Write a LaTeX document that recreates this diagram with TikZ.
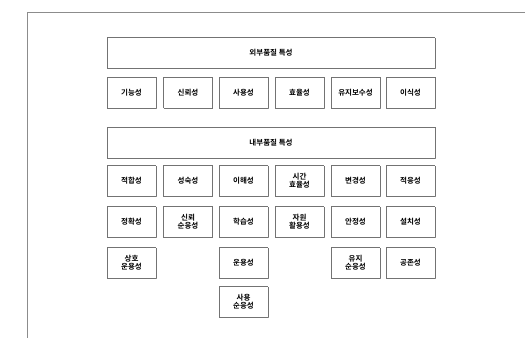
\documentclass[tikz,border=0pt]{standalone}
\usepackage{fontspec}
\newfontfamily\kr{Noto Sans CJK KR}[BoldFont={* Bold}]
\begin{document}
\begin{tikzpicture}[x=1pt,y=-1pt,
  qbox/.style={draw=black!55, line width=1pt, dash pattern=on 0.6pt off 0.3pt,
    minimum width=49pt, minimum height=31pt, inner sep=0pt, align=center,
    font=\kr\bfseries\fontsize{7.5}{8.3}\selectfont},
  widebox/.style={qbox, minimum width=328pt},
  frameline/.style={draw=black!45, line width=0.9pt, dash pattern=on 0.6pt off 0.3pt}]
\useasboundingbox (0,0) rectangle (525,338);
\coordinate (fa) at (525,12);
\coordinate (fb) at (27,12);
\coordinate (fc) at (27,338);
\draw[frameline] (fa) -- (fb) -- (fc);
% external
\node[widebox] (ext) at (271,53) {외부품질 특성};
\node[qbox] (e1) at (131.5,92.5) {기능성};
\node[qbox] (e2) at (188,92.5) {신뢰성};
\node[qbox] (e3) at (243.5,92.5) {사용성};
\node[qbox] (e4) at (299.5,92.5) {효율성};
\node[qbox] (e5) at (355.5,92.5) {유지보수성};
\node[qbox] (e6) at (410.5,92.5) {이식성};
% internal
\node[widebox] (int) at (271,142.5) {내부품질 특성};
\node[qbox] (a1) at (131.5,181) {적합성};
\node[qbox] (a2) at (188,181) {성숙성};
\node[qbox] (a3) at (243.5,181) {이해성};
\node[qbox] (a4) at (299.5,181) {시간\\효율성};
\node[qbox] (a5) at (355.5,181) {변경성};
\node[qbox] (a6) at (410.5,181) {적응성};
\node[qbox] (b1) at (131.5,222) {정확성};
\node[qbox] (b2) at (188,222) {신뢰\\순응성};
\node[qbox] (b3) at (243.5,222) {학습성};
\node[qbox] (b4) at (299.5,222) {자원\\활용성};
\node[qbox] (b5) at (355.5,222) {안정성};
\node[qbox] (b6) at (410.5,222) {설치성};
\node[qbox] (c1) at (131.5,263) {상호\\운용성};
\node[qbox] (c3) at (243.5,263) {운용성};
\node[qbox] (c5) at (355.5,263) {유지\\순응성};
\node[qbox] (c6) at (410.5,263) {공존성};
\node[qbox] (d3) at (243.5,302) {사용\\순응성};
\end{tikzpicture}
\end{document}
